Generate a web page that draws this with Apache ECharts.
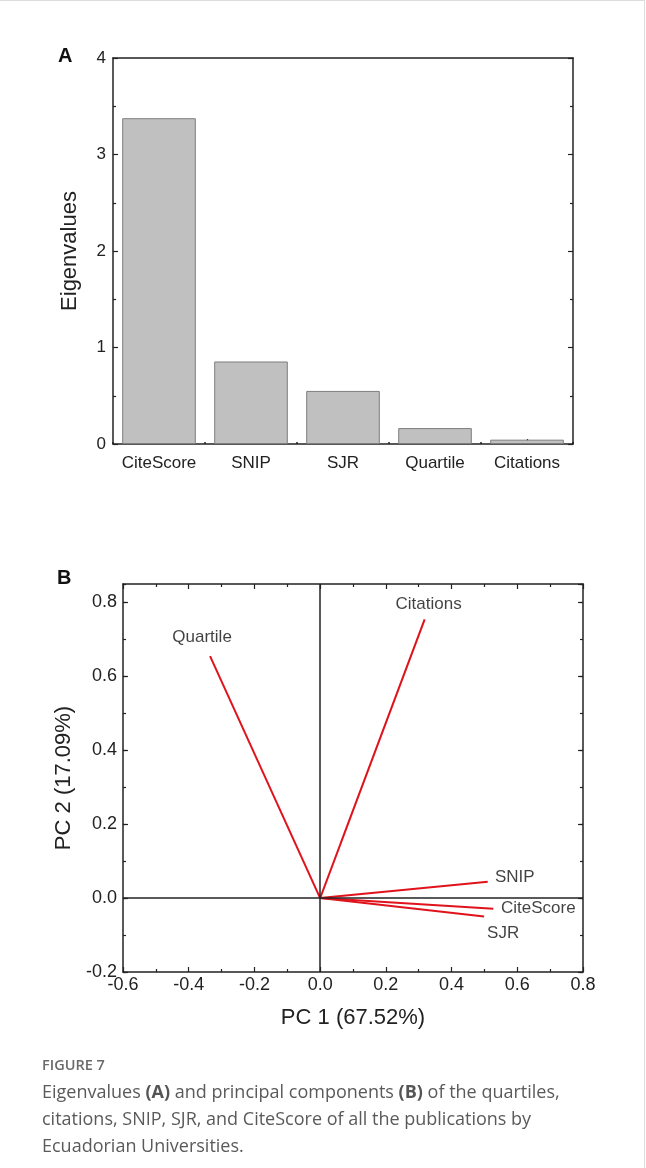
<!DOCTYPE html>
<html>
<head>
<meta charset="utf-8">
<script src="https://cdn.jsdelivr.net/npm/echarts@6/dist/echarts.min.js"></script>
<style>
  html, body { margin: 0; padding: 0; background: #fff; }
  #wrap { position: relative; width: 646px; height: 1168px; overflow: hidden; }
  #chart { position: absolute; left: 0; top: 0; width: 646px; height: 1168px; }
  #edge { position: absolute; left: 0; top: 0; width: 645px; height: 1168px; border-top: 1px solid #dcdcdc; border-right: 1px solid #dcdcdc; box-sizing: border-box; pointer-events: none; }
  #caption { position: absolute; left: 42px; top: 1054px; font-family: 'Open Sans', 'Noto Sans', sans-serif; color: #5a5a5a; }
  #caption .fig { font-size: 14.5px; font-weight: 600; color: #6a6a6a; line-height: 22px; }
  #caption .txt { font-size: 18px; line-height: 27px; font-weight: 400; margin-top: 2px; }
  #caption b { font-weight: 700; color: #555; }
</style>
</head>
<body>
<div id="wrap">
  <div id="chart"></div>
  <div id="edge"></div>
  <div id="caption">
    <div class="fig">FIGURE 7</div>
    <div class="txt">Eigenvalues <b>(A)</b> and principal components <b>(B)</b> of the quartiles,<br>citations, SNIP, SJR, and CiteScore of all the publications by<br>Ecuadorian Universities.</div>
  </div>
</div>
<script>
// panel A: eigenvalues
const categories = ['CiteScore', 'SNIP', 'SJR', 'Quartile', 'Citations']
const eigenvalues = [3.376, 0.855, 0.55, 0.165, 0.045]

// panel B: loadings
const variables = ['Quartile', 'Citations', 'SNIP', 'CiteScore', 'SJR']
const pc1 = [-0.335, 0.318, 0.510, 0.527, 0.499]
const pc2 = [0.655, 0.754, 0.044, -0.029, -0.050]

// label offsets in px (style only)
const labelOffset = {
  Quartile: [-8, -19],
  Citations: [4, -15],
  SNIP: [27, -5],
  CiteScore: [45, 0],
  SJR: [19, 17]
}

const FONT = "'Liberation Sans', Arial, sans-serif"
const INK = '#222'
const frame = { show: true, onZero: false, lineStyle: { color: INK, width: 1.5 } }
const hiddenLine = { show: false, onZero: false }
const tickMajor = { show: true, inside: true, length: 5, lineStyle: { color: INK, width: 1.2 } }
const tickMinor = { show: true, inside: true, length: 3, lineStyle: { color: INK, width: 1.2 } }
const minor = { show: true, splitNumber: 2, length: 3, lineStyle: { color: INK, width: 1.2 } }
const noLabel = { show: false }
const noSplit = { show: false }

const chart = echarts.init(document.getElementById('chart'))

const option = {
  backgroundColor: '#fff',
  animation: false,
  grid: [
    { left: 113, right: 73, top: 58, height: 386 },
    { left: 123, right: 63, top: 584, height: 388 }
  ],
  graphic: [
    { type: 'text', left: 58, top: 46, style: { text: 'A', font: 'bold 20px ' + FONT, fill: '#111' } },
    { type: 'text', left: 57, top: 568, style: { text: 'B', font: 'bold 20px ' + FONT, fill: '#111' } }
  ],
  xAxis: [
    // A bottom, ticks at centers
    {
      gridIndex: 0, type: 'category', data: categories, position: 'bottom',
      axisLine: frame, axisTick: { ...tickMajor, alignWithLabel: true },
      axisLabel: { interval: 0, fontSize: 17, color: INK, margin: 11, fontFamily: FONT },
      splitLine: noSplit
    },
    // A bottom, boundary dots
    {
      gridIndex: 0, type: 'category', data: categories, position: 'bottom',
      axisLine: hiddenLine, axisTick: { show: true, interval: 0, inside: true, length: 2, lineStyle: { color: INK, width: 1.5 } },
      axisLabel: noLabel, splitLine: noSplit
    },
    // A top frame
    {
      gridIndex: 0, type: 'category', data: categories, position: 'top',
      axisLine: frame, axisTick: { show: false }, axisLabel: noLabel, splitLine: noSplit
    },
    // B bottom
    {
      gridIndex: 1, type: 'value', min: -0.6, max: 0.8, interval: 0.2, position: 'bottom',
      axisLine: frame, axisTick: tickMajor, minorTick: minor,
      axisLabel: { fontSize: 18, color: INK, margin: 4, fontFamily: FONT, formatter: v => v.toFixed(1) },
      name: 'PC 1 (67.52%)', nameLocation: 'middle', nameGap: 35,
      nameTextStyle: { fontSize: 22, color: INK, fontFamily: FONT },
      splitLine: noSplit
    },
    // B top
    {
      gridIndex: 1, type: 'value', min: -0.6, max: 0.8, interval: 0.2, position: 'top',
      axisLine: frame, axisTick: tickMajor, minorTick: minor,
      axisLabel: noLabel, splitLine: noSplit
    }
  ],
  yAxis: [
    // A left
    {
      gridIndex: 0, type: 'value', min: 0, max: 4, interval: 1, position: 'left',
      axisLine: frame, axisTick: tickMajor, minorTick: minor,
      axisLabel: { fontSize: 17, color: INK, margin: 7, fontFamily: FONT },
      name: 'Eigenvalues', nameLocation: 'middle', nameGap: 32,
      nameTextStyle: { fontSize: 22, color: INK, fontFamily: FONT },
      splitLine: noSplit
    },
    // A right
    {
      gridIndex: 0, type: 'value', min: 0, max: 4, interval: 1, position: 'right',
      axisLine: frame, axisTick: tickMajor, minorTick: minor,
      axisLabel: noLabel, splitLine: noSplit
    },
    // B left, major
    {
      gridIndex: 1, type: 'value', min: -0.2, max: 0.85, interval: 0.2, position: 'left',
      axisLine: frame, axisTick: tickMajor,
      axisLabel: { fontSize: 18, color: INK, margin: 6, fontFamily: FONT, showMaxLabel: false, formatter: v => v.toFixed(1) },
      name: 'PC 2 (17.09%)', nameLocation: 'middle', nameGap: 42,
      nameTextStyle: { fontSize: 22, color: INK, fontFamily: FONT },
      splitLine: noSplit
    },
    // B left, minor
    {
      gridIndex: 1, type: 'value', min: -0.2, max: 0.85, interval: 0.1, position: 'left',
      axisLine: hiddenLine, axisTick: tickMinor, axisLabel: noLabel, splitLine: noSplit
    },
    // B right, major
    {
      gridIndex: 1, type: 'value', min: -0.2, max: 0.85, interval: 0.2, position: 'right',
      axisLine: frame, axisTick: tickMajor, axisLabel: noLabel, splitLine: noSplit
    },
    // B right, minor
    {
      gridIndex: 1, type: 'value', min: -0.2, max: 0.85, interval: 0.1, position: 'right',
      axisLine: hiddenLine, axisTick: tickMinor, axisLabel: noLabel, splitLine: noSplit
    }
  ],
  series: [
    {
      name: 'Eigenvalues', type: 'bar', xAxisIndex: 0, yAxisIndex: 0,
      data: eigenvalues, barCategoryGap: '20%',
      itemStyle: { color: '#c0c0c0', borderColor: '#7e7e7e', borderWidth: 1 },
      silent: true
    },
    // end labels + zero lines
    {
      type: 'scatter', xAxisIndex: 3, yAxisIndex: 2, z: 1,
      symbolSize: 1, itemStyle: { color: 'rgba(0,0,0,0)' },
      data: variables.map((v, i) => ({
        name: v, value: [pc1[i], pc2[i]],
        label: { offset: labelOffset[v] }
      })),
      label: {
        show: true, position: 'inside', formatter: p => p.name,
        fontSize: 17, color: '#111', fontFamily: FONT,
        textBorderWidth: 0
      },
      markLine: {
        silent: true, symbol: ['none', 'none'], animation: false,
        lineStyle: { color: INK, type: 'solid', width: 1.5 },
        label: { show: false },
        data: [{ xAxis: 0 }, { yAxis: 0 }]
      },
      silent: true
    },
    ...variables.map((v, i) => ({
      name: v, type: 'line', xAxisIndex: 3, yAxisIndex: 2, z: 3,
      data: [[0, 0], [pc1[i], pc2[i]]],
      symbol: 'none',
      lineStyle: { color: '#e0121b', width: 2 },
      silent: true
    }))
  ]
}

chart.setOption(option)
window.addEventListener('resize', () => chart.resize())
</script>
</body>
</html>
